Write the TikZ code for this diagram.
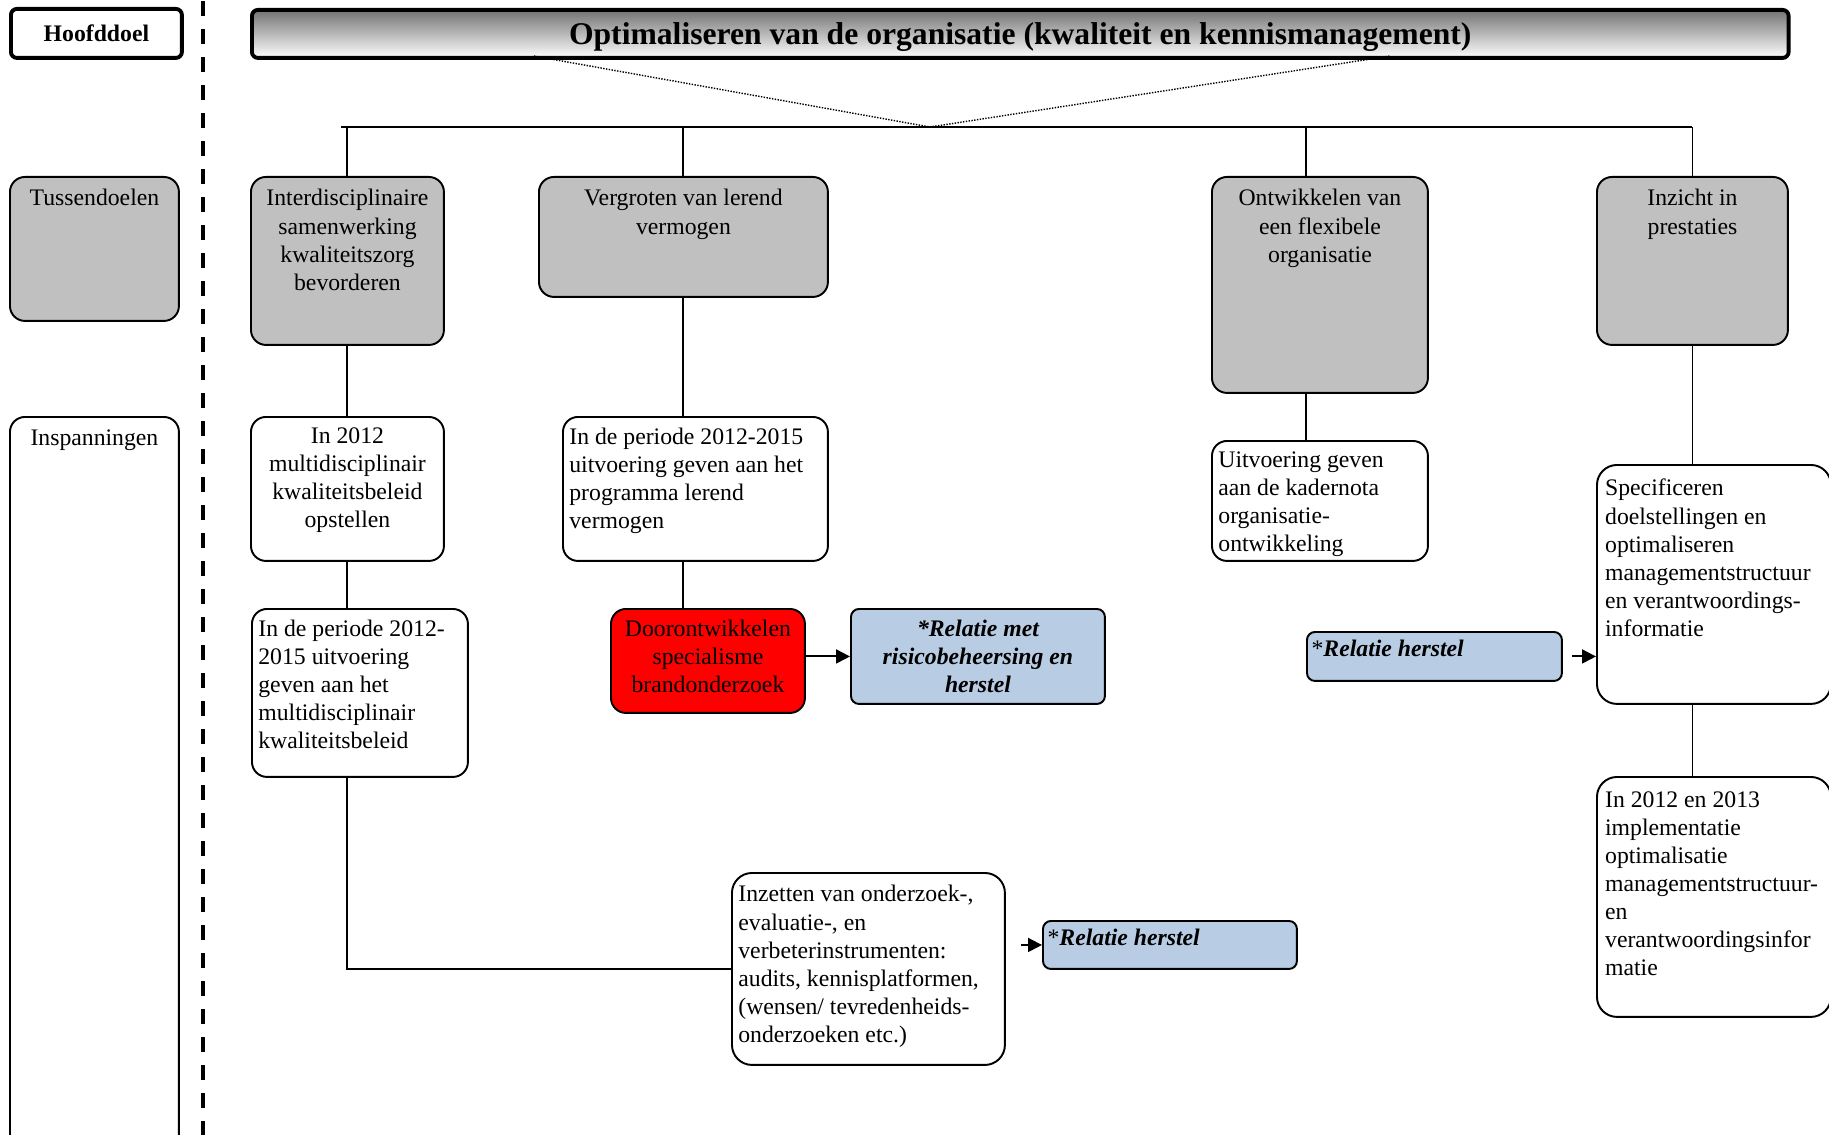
\documentclass[tikz,border=0pt]{standalone}
\usepackage{fontspec}
\setmainfont{Liberation Serif}
\usetikzlibrary{arrows.meta}

\definecolor{goalgray}{HTML}{C0C0C0}
\definecolor{relblue}{HTML}{B8CCE4}

\begin{document}
\begin{tikzpicture}[x=0.02cm,y=-0.02cm]
%style for main goal and title bar
\tikzstyle{headbox} = [rectangle, rounded corners=0.12cm, draw=black, line width=2.2pt, anchor=north west, inner sep=0pt, text depth=0pt, font=\fontsize{13.5}{16}\selectfont\bfseries]

%style for intermediate goals
\tikzstyle{goalbox} = [rectangle, rounded corners=0.3cm, fill=goalgray, draw=black, line width=1.1pt, anchor=north west]

%style for efforts
\tikzstyle{workbox} = [rectangle, rounded corners=0.3cm, fill=white, draw=black, line width=1.1pt, anchor=north west]
\tikzstyle{redbox} = [workbox, fill=red]

%style for relation boxes
\tikzstyle{relbox} = [workbox, rounded corners=0.16cm, fill=relblue]

%style for texts inside the boxes
\tikzstyle{ctext} = [anchor=north, align=center, inner xsep=4pt, inner ysep=7.5pt, font=\fontsize{13.5}{16}\selectfont]
\tikzstyle{ltext} = [anchor=north west, align=left, inner xsep=4pt, inner ysep=6.5pt, font=\fontsize{13.5}{16}\selectfont]
\tikzstyle{btext} = [ctext, font=\fontsize{13.5}{16}\selectfont\bfseries\itshape]

%style for lines
\tikzstyle{line} = [line width=1.1pt]
\tikzstyle{arrow} = [line width=1.1pt, -{Triangle[length=0.28cm,width=0.28cm]}]
\tikzstyle{dotline} = [line width=0.8pt, dash pattern=on 0.8pt off 0.8pt]

\useasboundingbox (0,0) rectangle (1829,1135);
\clip (0,0) rectangle (1829,1135);

%place nodes
\node[headbox, fill=white, minimum width=3.42cm, minimum height=0.98cm](hoofd) at (9,7) {Hoofddoel};
\node[headbox, top color=black!55, bottom color=white, minimum width=30.74cm, minimum height=0.96cm, font=\fontsize{18}{21}\selectfont\bfseries](titel) at (250,8) {Optimaliseren van de organisatie (kwaliteit en kennismanagement)};

\node[goalbox, minimum width=3.38cm, minimum height=2.88cm, label={[ctext]north:Tussendoelen}](tusLab) at (9,176) {};
\node[workbox, minimum width=3.38cm, minimum height=14.64cm, label={[ctext]north:Inspanningen}](inspLab) at (9,416) {};

\node[goalbox, minimum width=3.86cm, minimum height=3.36cm, label={[ctext]north:Interdisciplinaire\\samenwerking\\kwaliteitszorg\\bevorderen}](tus1) at (250,176) {};
\node[goalbox, minimum width=5.78cm, minimum height=2.40cm, label={[ctext]north:Vergroten van lerend\\vermogen}](tus2) at (538,176) {};
\node[goalbox, minimum width=4.32cm, minimum height=4.32cm, label={[ctext]north:Ontwikkelen van\\een flexibele\\organisatie}](tus3) at (1211,176) {};
\node[goalbox, minimum width=3.82cm, minimum height=3.36cm, label={[ctext]north:Inzicht in\\prestaties}](tus4) at (1596,176) {};

\node[workbox, minimum width=3.86cm, minimum height=2.88cm, label={[ctext, inner ysep=6.5pt]north:In 2012\\multidisciplinair\\kwaliteitsbeleid\\opstellen}](insp1a) at (250,416) {};
\node[workbox, minimum width=4.32cm, minimum height=3.36cm, label={[ltext]north west:In de periode 2012-\\2015 uitvoering\\geven aan het\\multidisciplinair\\kwaliteitsbeleid}](insp1b) at (251,608) {};
\node[workbox, minimum width=5.30cm, minimum height=2.88cm, label={[ltext]north west:In de periode 2012-2015\\uitvoering geven aan het\\programma lerend\\vermogen}](insp2) at (562,416) {};
\node[redbox, minimum width=3.88cm, minimum height=2.08cm, label={[ctext, inner ysep=6.5pt]north:Doorontwikkelen\\specialisme\\brandonderzoek}](brand) at (610,608) {};
\node[relbox, minimum width=5.08cm, minimum height=1.90cm, label={[btext, inner ysep=6.5pt]north:*Relatie met\\risicobeheersing en\\herstel}](rel1) at (850,608) {};

\node[workbox, minimum width=4.32cm, minimum height=2.40cm, label={[ltext]north west:Uitvoering geven\\aan de kadernota\\organisatie-\\ontwikkeling}](insp3) at (1211,440) {};
\node[relbox, minimum width=5.10cm, minimum height=0.98cm, label={[ltext, inner xsep=3pt, inner ysep=5pt]north west:*\textbf{\textit{Relatie herstel}}}](rel2) at (1306,631) {};

\node[workbox, rounded corners=0.4cm, minimum width=4.68cm, minimum height=4.78cm, label={[ltext, inner xsep=5pt, inner ysep=8.5pt]north west:Specificeren\\doelstellingen en\\optimaliseren\\managementstructuur\\en verantwoordings-\\informatie}](spec) at (1596,464) {};
\node[workbox, rounded corners=0.4cm, minimum width=4.68cm, minimum height=4.80cm, label={[ltext, inner xsep=5pt, inner ysep=8.5pt]north west:In 2012 en 2013\\implementatie\\optimalisatie\\managementstructuur-\\en\\verantwoordingsinfor\\matie}](impl) at (1596,776) {};

\node[workbox, rounded corners=0.4cm, minimum width=5.46cm, minimum height=3.84cm, label={[ltext, inner ysep=7.5pt]north west:Inzetten van onderzoek-,\\evaluatie-, en\\verbeterinstrumenten:\\audits, kennisplatformen,\\(wensen/ tevredenheids-\\onderzoeken etc.)}](inzet) at (731,872) {};
\node[relbox, minimum width=5.08cm, minimum height=0.96cm, label={[ltext, inner xsep=3pt, inner ysep=5pt]north west:*\textbf{\textit{Relatie herstel}}}](rel3) at (1042,920) {};

%helper points
\coordinate (sepTop) at (203,1);
\coordinate (sepBot) at (203,1135);
\coordinate (dotL) at (534,56);
\coordinate (dotR) at (1390,56);
\coordinate (apex) at (930,127);
\coordinate (barL) at (341,127);
\coordinate (col3) at (1306,127);

%connect nodes with lines
\draw[line width=2.3pt, dash pattern=on 0.3cm off 0.26cm] (sepTop) -- (sepBot);
\draw[dotline] (dotL) -- (apex) -- (dotR);
\draw[line] (barL) -- (tus4.north |- barL);
\draw[line] (tus1.north) -- (tus1.north |- barL);
\draw[line] (tus2.north) -- (tus2.north |- barL);
\draw[line] (col3) -- (col3 |- tus3.north);
\draw[line] (tus4.north) -- (tus4.north |- barL);

\draw[line] (tus1.south) -- (insp1a.north);
\draw[line] (insp1a.south) -- (insp1a.south |- insp1b.north);
\draw[line] (insp1a.south |- insp1b.south) |- (inzet.west);
\draw[line] (tus2.south) -- (tus2.south |- insp2.north);
\draw[line] (tus2.south |- insp2.south) -- (tus2.south |- brand.north);
\draw[arrow] (brand.east |- rel1.west) -- (rel1.west);
\draw[line] (col3 |- tus3.south) -- (col3 |- insp3.north);
\draw[line] (tus4.south) -- (tus4.south |- spec.north);
\draw[line] (tus4.south |- spec.south) -- (tus4.south |- impl.north);
\draw[arrow] ([xshift=0.18cm]rel2.east) -- (rel2.east -| spec.west);
\draw[arrow] ([xshift=-0.42cm]rel3.west) -- (rel3.west);
\end{tikzpicture}
\end{document}
